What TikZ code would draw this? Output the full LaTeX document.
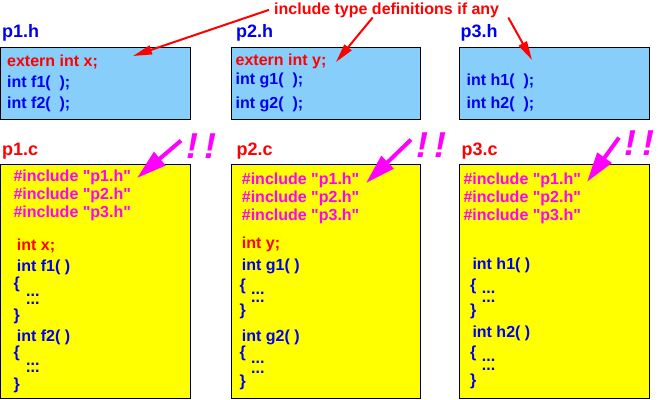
\documentclass[tikz,border=0pt]{standalone}
\usepackage{fontspec}
\setmainfont{Liberation Sans}
\newfontfamily\codefamily{Liberation Sans}
\usetikzlibrary{arrows.meta}
\definecolor{hdrblue}{RGB}{135,206,250}
\definecolor{srcyellow}{RGB}{255,255,0}
\definecolor{incmag}{RGB}{255,0,255}
\definecolor{codered}{RGB}{255,0,0}
\definecolor{codeblue}{RGB}{0,0,240}
\newcommand\codefont{\codefamily\fontsize{16}{19}\selectfont\bfseries}
\newcommand\labelfont{\fontsize{18}{21}\selectfont\bfseries}
\newcommand\bangfont{\fontsize{36}{40}\selectfont\bfseries\itshape}
\def\drawnote{\draw[codered, line width=2pt, -{Triangle[length=19pt,width=9pt]}]}
\def\drawinc{\draw[incmag, line width=4pt, -{Triangle[length=30pt,width=17pt]}]}
\def\hdrbox{\draw[line width=0.8pt, fill=hdrblue]}
\def\srcbox{\draw[line width=0.8pt, fill=srcyellow]}
\def\codenode{\node[anchor=base west, inner sep=0pt, font=\codefont]}
\def\dotsnode{\node[anchor=base west, inner sep=0pt, font=\codefont, text=codeblue, text height=3pt, text depth=0pt]}
\def\filelabel{\node[anchor=base west, inner sep=0pt, font=\labelfont]}
\def\bangnode{\node[anchor=base west, inner sep=0pt, font=\bangfont, text=incmag]}

\begin{document}
\begin{tikzpicture}[x=1pt, y=-1pt]
\useasboundingbox (0,0) rectangle (661,399);
% header files
\hdrbox (0.5,47.5) rectangle (190,119);
\hdrbox (231.5,47.5) rectangle (420.5,119);
\hdrbox (459.5,47.5) rectangle (649,119);
\filelabel[text=codeblue] (p1h) at (2,37) {p1.h};
\filelabel[text=codeblue] (p2h) at (236,37) {p2.h};
\filelabel[text=codeblue] (p3h) at (460.5,37) {p3.h};
\codenode[text=codered] (hx) at (7,66.5) {extern int x;};
\codenode[text=codeblue] (hf1) at (7,87) {int f1(\ \ );};
\codenode[text=codeblue] (hf2) at (7,108) {int f2(\ \ );};
\codenode[text=codered] (hy) at (235.5,65) {extern int y;};
\codenode[text=codeblue] (hg1) at (235.5,84.5) {int g1(\ \ );};
\codenode[text=codeblue] (hg2) at (235.5,108) {int g2(\ \ );};
\codenode[text=codeblue] (hh1) at (466.5,85) {int h1(\ \ );};
\codenode[text=codeblue] (hh2) at (466.5,108) {int h2(\ \ );};
% note on the headers
\codenode[text=codered] (note) at (274,14) {include type definitions if any};
\coordinate (t1) at (133,56);
\coordinate (t2) at (336,62);
\coordinate (t3) at (532,60);
\drawnote ([xshift=-5pt]note.west) -- (t1);
\drawnote ([xshift=-14pt]note.south) -- (t2);
\drawnote ([xshift=9pt]note.south east) -- (t3);
% source files
\srcbox (0.5,164) rectangle (190,398);
\srcbox (231,164) rectangle (420.5,398);
\srcbox (459,164) rectangle (649,398);
\filelabel[text=codered] (p1c) at (2,155) {p1.c};
\filelabel[text=codered] (p2c) at (236.5,155) {p2.c};
\filelabel[text=codered] (p3c) at (461.5,155) {p3.c};
% p1.c
\codenode[text=incmag] (inc11) at (13.3,181.7) {\#include "p1.h"};
\codenode[text=incmag] (inc12) at (13.3,199.5) {\#include "p2.h"};
\codenode[text=incmag] (inc13) at (13.3,217.3) {\#include "p3.h"};
\codenode[text=codered] (ix) at (16.7,250.7) {int x;};
\codenode[text=codeblue] (f1) at (16.7,271.7) {int f1( )};
\codenode[text=codeblue] (f1o) at (13.3,288.4) {\{};
\dotsnode (f1a) at (26,296) {...};
\dotsnode (f1b) at (26,304.3) {...};
\codenode[text=codeblue] (f1c) at (13.3,320) {\}};
\codenode[text=codeblue] (f2) at (16.7,341.7) {int f2( )};
\codenode[text=codeblue] (f2o) at (13.3,357.7) {\{};
\dotsnode (f2a) at (26,365) {...};
\dotsnode (f2b) at (26,372.7) {...};
\codenode[text=codeblue] (f2c) at (13.3,389) {\}};
% p2.c
\codenode[text=incmag] (inc21) at (241.7,184.3) {\#include "p1.h"};
\codenode[text=incmag] (inc22) at (241.7,202.5) {\#include "p2.h"};
\codenode[text=incmag] (inc23) at (241.7,220.7) {\#include "p3.h"};
\codenode[text=codered] (iy) at (241.7,248.3) {int y;};
\codenode[text=codeblue] (g1) at (241.7,270.7) {int g1( )};
\codenode[text=codeblue] (g1o) at (239.3,290) {\{};
\dotsnode (g1a) at (251,294) {...};
\dotsnode (g1b) at (251,302.7) {...};
\codenode[text=codeblue] (g1c) at (239.3,315) {\}};
\codenode[text=codeblue] (g2) at (241.7,341.7) {int g2( )};
\codenode[text=codeblue] (g2o) at (239.3,357.7) {\{};
\dotsnode (g2a) at (251,363.3) {...};
\dotsnode (g2b) at (251,373.3) {...};
\codenode[text=codeblue] (g2c) at (239.3,386.7) {\}};
% p3.c
\codenode[text=incmag] (inc31) at (463.3,184.3) {\#include "p1.h"};
\codenode[text=incmag] (inc32) at (463.3,202.5) {\#include "p2.h"};
\codenode[text=incmag] (inc33) at (463.3,220.7) {\#include "p3.h"};
\codenode[text=codeblue] (h1) at (472.3,269.3) {int h1( )};
\codenode[text=codeblue] (h1o) at (470,290) {\{};
\dotsnode (h1a) at (481.7,293.3) {...};
\dotsnode (h1b) at (481.7,302.3) {...};
\codenode[text=codeblue] (h1c) at (470,315) {\}};
\codenode[text=codeblue] (h2) at (472.3,337.3) {int h2( )};
\codenode[text=codeblue] (h2o) at (470,357.7) {\{};
\dotsnode (h2a) at (481.7,361.7) {...};
\dotsnode (h2b) at (481.7,370.7) {...};
\codenode[text=codeblue] (h2c) at (470,385) {\}};
% the includes
\bangnode (bang1) at (186,158) {!\,!};
\bangnode (bang2) at (416,157) {!\,!};
\bangnode (bang3) at (624,155) {!\,!};
\coordinate (i1) at (137,178);
\coordinate (i2) at (366,183);
\coordinate (i3) at (587,182);
\drawinc ([shift={(-5pt,5pt)}]bang1.west) -- (i1);
\drawinc ([shift={(-5pt,5pt)}]bang2.west) -- (i2);
\drawinc ([shift={(-5pt,5pt)}]bang3.west) -- (i3);
\end{tikzpicture}
\end{document}
